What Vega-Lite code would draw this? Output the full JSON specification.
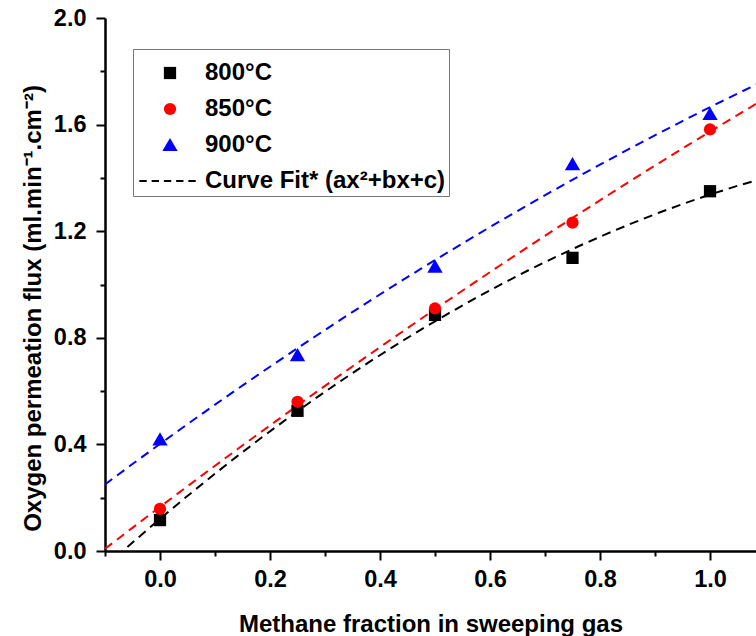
{
  "$schema": "https://vega.github.io/schema/vega-lite/v6.json",
  "width": 651,
  "height": 533,
  "autosize": {"type": "none"},
  "padding": {"left": 105, "top": 18, "right": 0, "bottom": 85},
  "background": "white",
  "config": {"view": {"stroke": null}, "font": "Liberation Sans"},
  "data": {
    "values": [
      {"series": "800°C", "x": 0.0, "y": 0.116},
      {"series": "800°C", "x": 0.25, "y": 0.526},
      {"series": "800°C", "x": 0.5, "y": 0.886},
      {"series": "800°C", "x": 0.75, "y": 1.10},
      {"series": "800°C", "x": 1.0, "y": 1.35},
      {"series": "850°C", "x": 0.0, "y": 0.158},
      {"series": "850°C", "x": 0.25, "y": 0.56},
      {"series": "850°C", "x": 0.5, "y": 0.91},
      {"series": "850°C", "x": 0.75, "y": 1.232},
      {"series": "850°C", "x": 1.0, "y": 1.582},
      {"series": "900°C", "x": 0.0, "y": 0.419},
      {"series": "900°C", "x": 0.25, "y": 0.735},
      {"series": "900°C", "x": 0.5, "y": 1.067},
      {"series": "900°C", "x": 0.75, "y": 1.452},
      {"series": "900°C", "x": 1.0, "y": 1.64}
    ]
  },
  "layer": [
    {
      "transform": [
        {"regression": "y", "on": "x", "groupby": ["series"], "method": "poly", "order": 2, "extent": [-0.1, 1.1]}
      ],
      "mark": {"type": "line", "clip": true, "strokeDash": [9, 6], "strokeWidth": 2},
      "encoding": {
        "x": {"field": "x", "type": "quantitative"},
        "y": {"field": "y", "type": "quantitative"},
        "stroke": {
          "field": "series", "type": "nominal",
          "scale": {"domain": ["800°C", "850°C", "900°C"], "range": ["#000000", "#ff0000", "#0000ff"]},
          "legend": null
        }
      }
    },
    {
      "mark": {"type": "point", "filled": true, "opacity": 1, "size": 150},
      "encoding": {
        "x": {
          "field": "x", "type": "quantitative",
          "scale": {"domain": [-0.1, 1.0836], "nice": false, "zero": false},
          "axis": {
            "values": [-0.1, 0, 0.1, 0.2, 0.3, 0.4, 0.5, 0.6, 0.7, 0.8, 0.9, 1.0],
            "labelExpr": "round(datum.value*10) % 2 == 0 ? format(datum.value, '.1f') : ''",
            "grid": false,
            "domainColor": "black", "domainWidth": 2.5,
            "tickColor": "black", "tickWidth": 2,
            "tickSize": {"condition": {"test": "round(datum.value*10) % 2 == 0", "value": 9}, "value": 5},
            "labelFontSize": 23.5, "labelFontWeight": "bold", "labelColor": "black", "labelPadding": 7,
            "labelFlush": false,
            "title": "Methane fraction in sweeping gas",
            "titleFontSize": 24, "titleFontWeight": "bold", "titleColor": "black",
            "titleBaseline": "alphabetic", "titleY": 80
          }
        },
        "y": {
          "field": "y", "type": "quantitative",
          "scale": {"domain": [0, 2.0], "nice": false},
          "axis": {
            "values": [0, 0.2, 0.4, 0.6, 0.8, 1.0, 1.2, 1.4, 1.6, 1.8, 2.0],
            "labelExpr": "round(datum.value*10) % 4 == 0 ? format(datum.value, '.1f') : ''",
            "grid": false,
            "domainColor": "black", "domainWidth": 2.5,
            "tickColor": "black", "tickWidth": 2,
            "tickSize": {"condition": {"test": "round(datum.value*10) % 4 == 0", "value": 9}, "value": 5},
            "labelFontSize": 23.5, "labelFontWeight": "bold", "labelColor": "black", "labelPadding": 10,
            "labelFlush": false,
            "title": "Oxygen permeation flux (ml.min⁻¹.cm⁻²)",
            "titleFontSize": 24, "titleFontWeight": "bold", "titleColor": "black",
            "titleX": -72, "titleY": 290, "titleBaseline": "middle"
          }
        },
        "color": {
          "field": "series", "type": "nominal",
          "scale": {"domain": ["800°C", "850°C", "900°C", "Curve Fit* (ax²+bx+c)"], "range": ["#000000", "#ff0000", "#0000ff", "#000000"]},
          "legend": {
            "title": " ", "titleFontSize": 8, "titlePadding": 1,
            "orient": "none", "legendX": 28, "legendY": 31,
            "symbolSize": 150, "symbolStrokeWidth": 0, "symbolOpacity": 1, "symbolOffset": 22,
            "labelFontSize": 24, "labelFontWeight": "bold", "labelColor": "black", "labelFont": "Liberation Sans",
            "labelOffset": 23, "rowPadding": 12, "padding": 3,
            "strokeColor": "#777777", "fillColor": "white", "labelLimit": 400
          }
        },
        "shape": {
          "field": "series", "type": "nominal",
          "scale": {"domain": ["800°C", "850°C", "900°C", "Curve Fit* (ax²+bx+c)"], "range": ["square", "circle", "M0,-1.15L1.25,1L-1.25,1Z", "M-5,-0.15H-3.8V0.15H-5Z M-3,-0.15H-1.8V0.15H-3Z M-1,-0.15H0.2V0.15H-1Z M1,-0.15H2.2V0.15H1Z M3,-0.15H4.2V0.15H3Z"]},
          "legend": {
            "title": " ", "titleFontSize": 8, "titlePadding": 1,
            "orient": "none", "legendX": 28, "legendY": 31,
            "symbolSize": 150, "symbolStrokeWidth": 0, "symbolOpacity": 1, "symbolOffset": 22,
            "labelFontSize": 24, "labelFontWeight": "bold", "labelColor": "black", "labelFont": "Liberation Sans",
            "labelOffset": 23, "rowPadding": 12, "padding": 3,
            "strokeColor": "#777777", "fillColor": "white", "labelLimit": 400
          }
        }
      }
    }
  ]
}
